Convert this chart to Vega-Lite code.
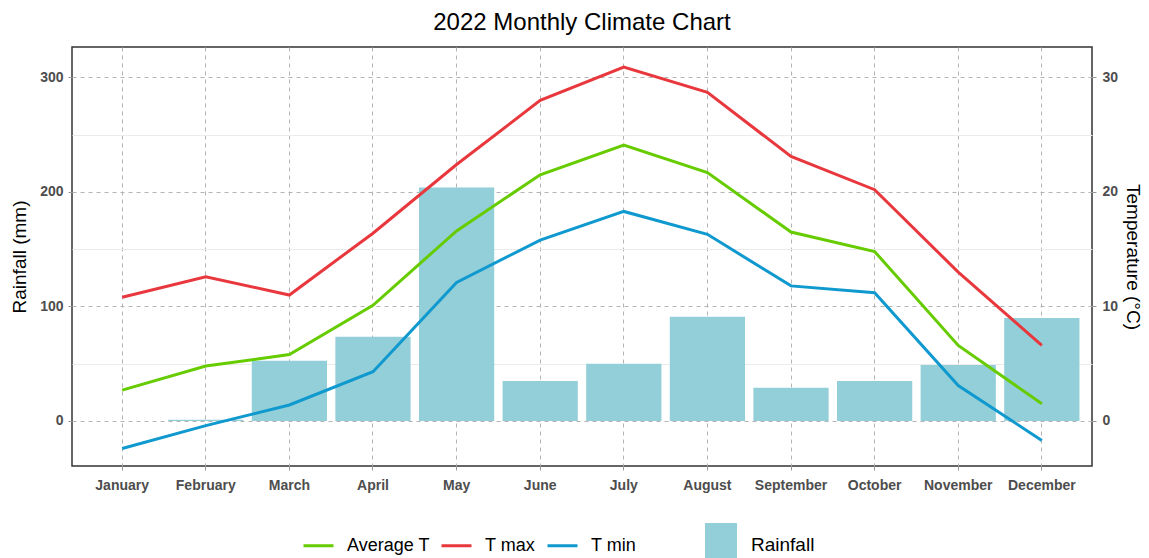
{
  "$schema": "https://vega.github.io/schema/vega-lite/v6.json",
  "width": 1020,
  "height": 419,
  "autosize": {"type": "none"},
  "padding": {"left": 72, "top": 47, "right": 57, "bottom": 92},
  "background": "white",
  "title": {"text": "2022 Monthly Climate Chart", "fontSize": 24, "font": "Liberation Sans", "fontWeight": "normal", "color": "#000000", "offset": 12},
  "config": {
    "view": {"stroke": "#333333", "strokeWidth": 1.5},
    "axis": {"labelFont": "Liberation Sans", "titleFont": "Liberation Sans", "labelColor": "#4d4d4d", "labelFontSize": 14, "labelFontWeight": "bold", "titleFontSize": 19, "titleFontWeight": "normal", "titleColor": "#000000", "tickColor": "#999999", "tickSize": 4, "domain": false},
    "legend": {"labelFont": "Liberation Sans", "labelFontSize": 18, "labelColor": "#000000"}
  },
  "data": {
    "values": [
      {"month": "January", "rain": 0, "Average T": 2.7, "T max": 10.8, "T min": -2.4},
      {"month": "February", "rain": 1, "Average T": 4.8, "T max": 12.6, "T min": -0.4},
      {"month": "March", "rain": 52.7, "Average T": 5.8, "T max": 11.0, "T min": 1.4},
      {"month": "April", "rain": 73.6, "Average T": 10.1, "T max": 16.4, "T min": 4.3},
      {"month": "May", "rain": 204, "Average T": 16.6, "T max": 22.4, "T min": 12.1},
      {"month": "June", "rain": 35, "Average T": 21.5, "T max": 28.0, "T min": 15.8},
      {"month": "July", "rain": 50, "Average T": 24.1, "T max": 30.9, "T min": 18.3},
      {"month": "August", "rain": 91, "Average T": 21.7, "T max": 28.7, "T min": 16.3},
      {"month": "September", "rain": 29, "Average T": 16.5, "T max": 23.1, "T min": 11.8},
      {"month": "October", "rain": 35, "Average T": 14.8, "T max": 20.2, "T min": 11.2},
      {"month": "November", "rain": 49, "Average T": 6.6, "T max": 13.0, "T min": 3.1},
      {"month": "December", "rain": 90, "Average T": 1.5, "T max": 6.6, "T min": -1.7}
    ]
  },
  "encoding": {
    "x": {
      "field": "month", "type": "nominal",
      "sort": ["January","February","March","April","May","June","July","August","September","October","November","December"],
      "scale": {"type": "band", "paddingInner": 0.1, "paddingOuter": 0.15},
      "axis": {"title": null, "labelAngle": 0, "bandPosition": 0.5, "grid": true, "gridDash": [4, 4], "gridColor": "#b3b3b3", "labelPadding": 8}
    }
  },
  "layer": [
    {
      "mark": {"type": "bar"},
      "encoding": {
        "y": {
          "field": "rain", "type": "quantitative",
          "scale": {"domain": [-39.3, 326.6], "nice": false, "zero": false},
          "axis": {"title": "Rainfall (mm)", "orient": "left", "values": [0, 100, 200, 300], "grid": false, "labelPadding": 5, "titlePadding": 10}
        },
        "fill": {
          "datum": "Rainfall", "type": "nominal",
          "scale": {"range": ["#93cfd8"]},
          "legend": {"title": null, "orient": "none", "legendX": 627, "legendY": 476, "symbolType": "M-0.728,-1H0.728V1H-0.728Z", "symbolSize": 1936, "symbolStrokeWidth": 0, "symbolOpacity": 1, "labelOffset": 8, "labelFontSize": 19, "padding": 0}
        }
      }
    },
    {
      "transform": [{"fold": ["Average T", "T max", "T min"], "as": ["series", "temp"]}],
      "mark": {"type": "line", "strokeWidth": 3},
      "encoding": {
        "y": {
          "field": "temp", "type": "quantitative",
          "scale": {"domain": [-3.93, 32.66], "nice": false, "zero": false},
          "axis": {
            "title": "Temperature (°C)", "orient": "right",
            "values": [0, 5, 10, 15, 20, 25, 30],
            "labelExpr": "datum.value % 10 === 0 ? datum.label : ''",
            "grid": true,
            "gridDash": {"condition": {"test": "datum.value % 10 === 0", "value": [4, 4]}, "value": []},
            "gridColor": {"condition": {"test": "datum.value % 10 === 0", "value": "#b3b3b3"}, "value": "#ebebeb"},
            "tickOpacity": {"condition": {"test": "datum.value % 10 === 0", "value": 1}, "value": 0},
            "labelPadding": 6,
            "titlePadding": 5
          }
        },
        "stroke": {
          "field": "series", "type": "nominal",
          "scale": {"domain": ["Average T", "T max", "T min"], "range": ["#66cc00", "#e8383d", "#0f99cf"]},
          "legend": {"title": null, "orient": "none", "legendX": 230, "legendY": 482, "direction": "horizontal", "symbolType": "stroke", "symbolSize": 900, "symbolStrokeWidth": 3, "labelOffset": 12, "columnPadding": 5, "padding": 0}
        }
      }
    }
  ],
  "resolve": {"scale": {"y": "independent"}}
}
